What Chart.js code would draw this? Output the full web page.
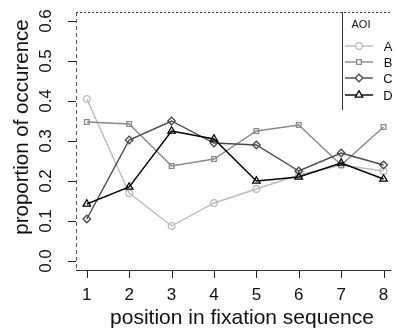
<!DOCTYPE html>
<html>
<head>
<meta charset="utf-8">
<script src="https://cdn.jsdelivr.net/npm/chart.js@4"></script>
<style>
html,body{margin:0;padding:0;background:#fff;}
#wrap{width:397px;height:333px;position:relative;}
</style>
</head>
<body>
<div id="wrap"><canvas id="c" width="397" height="333"></canvas></div>
<script>
const positions = [1, 2, 3, 4, 5, 6, 7, 8];
const seriesA = [0.405, 0.17, 0.0875, 0.145, 0.18, 0.215, 0.24, 0.225];
const seriesB = [0.3475, 0.3425, 0.2375, 0.255, 0.325, 0.34, 0.24, 0.335];
const seriesC = [0.105, 0.3025, 0.35, 0.295, 0.29, 0.225, 0.27, 0.24];
const seriesD = [0.1425, 0.185, 0.325, 0.305, 0.20, 0.21, 0.245, 0.205];
const xTicks = [1, 2, 3, 4, 5, 6, 7, 8];
const yTicks = [0.0, 0.1, 0.2, 0.3, 0.4, 0.5, 0.6];
const seriesNames = ['A', 'B', 'C', 'D'];
const legendTitle = 'AOI';
const xTitle = 'position in fixation sequence';
const yTitle = 'proportion of occurence';

const styles = [
  {color:'#bcbcbc', point:'circle', r:3.3},
  {color:'#8a8a8a', point:'rect', r:3.3},
  {color:'#4a4a4a', point:'rectRot', r:3.8},
  {color:'#000000', point:'triangle', r:4.3}
];
const allSeries = [seriesA, seriesB, seriesC, seriesD];

const datasets = allSeries.map((s, i) => ({
  label: seriesNames[i],
  data: positions.map((p, j) => ({x: p, y: s[j]})),
  borderColor: styles[i].color,
  backgroundColor: 'rgba(0,0,0,0)',
  pointBorderColor: styles[i].color,
  pointBackgroundColor: 'rgba(0,0,0,0)',
  pointStyle: styles[i].point,
  pointRadius: styles[i].r,
  pointBorderWidth: 1.3,
  borderWidth: 1.4,
  tension: 0,
  order: 4 - i
}));

const FONT = '"Liberation Sans", Arial, Helvetica, sans-serif';

const axesPlugin = {
  id: 'rAxes',
  afterDraw(chart) {
    const ctx = chart.ctx;
    const xs = chart.scales.x, ys = chart.scales.y;
    const a = chart.chartArea;
    ctx.save();
    ctx.strokeStyle = '#333';
    ctx.lineWidth = 1;
    ctx.setLineDash([2, 2]);
    ctx.beginPath(); ctx.moveTo(a.left, a.top + 0.5); ctx.lineTo(a.right, a.top + 0.5); ctx.stroke();
    ctx.strokeStyle = '#555';
    ctx.setLineDash([4, 3]);
    ctx.beginPath(); ctx.moveTo(a.left + 0.5, a.top); ctx.lineTo(a.left + 0.5, a.bottom); ctx.stroke();
    ctx.setLineDash([]);
    ctx.strokeStyle = '#333';
    ctx.beginPath(); ctx.moveTo(a.left, a.bottom + 0.5); ctx.lineTo(a.right, a.bottom + 0.5); ctx.stroke();
    ctx.strokeStyle = '#222';
    yTicks.forEach(v => {
      const py = Math.round(ys.getPixelForValue(v)) + 0.5;
      ctx.beginPath(); ctx.moveTo(a.left - 8, py); ctx.lineTo(a.left, py); ctx.stroke();
    });
    xTicks.forEach(v => {
      const px = Math.round(xs.getPixelForValue(v)) + 0.5;
      ctx.beginPath(); ctx.moveTo(px, a.bottom + 1); ctx.lineTo(px, a.bottom + 8); ctx.stroke();
    });
    ctx.fillStyle = '#111';
    ctx.font = '17px ' + FONT;
    ctx.textAlign = 'center';
    ctx.textBaseline = 'alphabetic';
    xTicks.forEach(v => {
      ctx.fillText(String(v), xs.getPixelForValue(v), 300);
    });
    yTicks.forEach(v => {
      ctx.save();
      ctx.translate(51, ys.getPixelForValue(v));
      ctx.rotate(-Math.PI / 2);
      ctx.fillText(v.toFixed(1), 0, 0);
      ctx.restore();
    });
    ctx.font = '21px ' + FONT;
    ctx.fillText(xTitle, 242, 324);
    ctx.font = '20.5px ' + FONT;
    ctx.save();
    ctx.translate(28, 127);
    ctx.rotate(-Math.PI / 2);
    ctx.fillText(yTitle, 0, 0);
    ctx.restore();

    ctx.strokeStyle = '#333';
    ctx.lineWidth = 1;
    ctx.beginPath(); ctx.moveTo(342.5, a.top); ctx.lineTo(342.5, 110); ctx.stroke();
    ctx.font = '11px ' + FONT;
    ctx.fillStyle = '#111';
    ctx.textBaseline = 'middle';
    ctx.fillText(legendTitle, 361, 25);
    const ly = [46, 62, 78, 95];
    seriesNames.forEach((n, i) => {
      const st = styles[i];
      ctx.strokeStyle = st.color;
      ctx.lineWidth = 1.4;
      ctx.beginPath(); ctx.moveTo(345, ly[i]); ctx.lineTo(373, ly[i]); ctx.stroke();
      ctx.fillStyle = '#ffffff';
      ctx.lineWidth = 1.3;
      Chart.helpers.drawPoint(ctx, {pointStyle: st.point, radius: st.r, borderWidth: 1.3}, 359, ly[i]);
      ctx.fillStyle = '#111';
      ctx.font = '13px ' + FONT;
      ctx.textAlign = 'center';
      ctx.fillText(n, 388, ly[i] + 1);
    });
    ctx.restore();
  }
};

new Chart(document.getElementById('c'), {
  type: 'line',
  data: { datasets },
  options: {
    responsive: false,
    animation: false,
    devicePixelRatio: 1,
    layout: { padding: { left: 76, top: 12, right: 0, bottom: 63 } },
    plugins: { legend: { display: false }, tooltip: { enabled: false } },
    scales: {
      x: { type: 'linear', min: 0.745, max: 8.185, display: false },
      y: { type: 'linear', min: -0.0225, max: 0.6225, display: false }
    }
  },
  plugins: [axesPlugin]
});
</script>
</body>
</html>
